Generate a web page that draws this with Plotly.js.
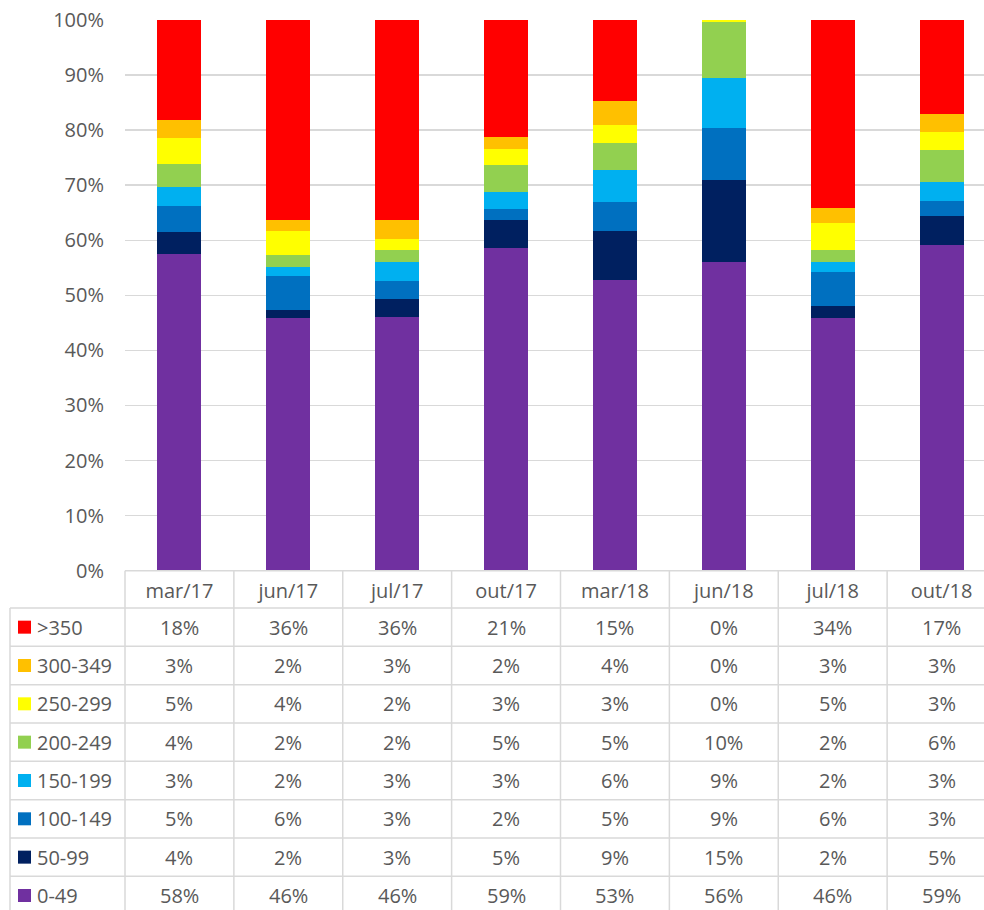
<!DOCTYPE html>
<html>
<head>
<meta charset="utf-8">
<script src="https://cdn.plot.ly/plotly-3.0.1.min.js"></script>
<style>
  html, body { margin: 0; padding: 0; overflow: hidden; background: #fff; }
  #chart { width: 996px; height: 915px; }
</style>
</head>
<body>
<div id="chart"></div>
<script>
// ---- data ----
const categories = ['mar/17', 'jun/17', 'jul/17', 'out/17', 'mar/18', 'jun/18', 'jul/18', 'out/18'];
const seriesNames = ['0-49', '50-99', '100-149', '150-199', '200-249', '250-299', '300-349', '>350'];
const seriesColors = ['#7030A0', '#002060', '#0070C0', '#00B0F0', '#92D050', '#FFFF00', '#FFC000', '#FF0000'];
const s0_49    = [57.6, 45.8, 46.0, 58.6, 52.8, 56.0, 45.8, 59.1];
const s50_99   = [3.9, 1.6, 3.4, 5.1, 8.8, 14.9, 2.2, 5.3];
const s100_149 = [4.8, 6.1, 3.2, 2.0, 5.3, 9.4, 6.3, 2.8];
const s150_199 = [3.4, 1.7, 3.4, 3.1, 5.9, 9.2, 1.7, 3.4];
const s200_249 = [4.1, 2.1, 2.3, 4.9, 4.9, 10.1, 2.2, 5.8];
const s250_299 = [4.7, 4.4, 2.0, 2.9, 3.2, 0.4, 5.0, 3.2];
const s300_349 = [3.3, 2.0, 3.3, 2.1, 4.4, 0.0, 2.6, 3.3];
const s350     = [18.2, 36.3, 36.4, 21.3, 14.7, 0.0, 34.2, 17.1];
const seriesValues = [s0_49, s50_99, s100_149, s150_199, s200_249, s250_299, s300_349, s350];

// ---- geometry (pixels) ----
const W = 996, H = 915, ML = 125, MT = 20, MR = 0, MB = 0;
const plotW = W - ML - MR, plotH = H - MT - MB;
const axisY = 570.7;           // pixel y of 0%
const headerBottom = 608;      // bottom of category header row
const rowH = 38.33;            // data table row height
const FONT = 'Open Sans, sans-serif';
const TXT = '#595959';
const LINE = '#d9d9d9';

const py = p => (H - MB - p) / plotH;   // pixel y -> paper y
const px = p => (p - ML) / plotW;       // pixel x -> paper x

const traces = seriesValues.map((vals, i) => ({
  type: 'bar',
  name: seriesNames[i],
  x: categories,
  y: vals,
  marker: { color: seriesColors[i], line: { width: 0 } },
  showlegend: false,
  hoverinfo: 'x+y+name'
}));

const shapes = [];
const annotations = [];

// horizontal table lines
shapes.push({ type: 'line', xref: 'paper', yref: 'paper', x0: 0, x1: 1, y0: py(axisY), y1: py(axisY),
  line: { color: LINE, width: 1.5 } });
for (let k = 0; k <= 8; k++) {
  const y = headerBottom + k * rowH;
  shapes.push({ type: 'line', xref: 'paper', yref: 'paper', x0: px(10), x1: 1, y0: py(y), y1: py(y),
    line: { color: LINE, width: 1.5 } });
}
// vertical lines
for (let i = 0; i <= categories.length; i++) {
  const x = i / categories.length;
  shapes.push({ type: 'line', xref: 'paper', yref: 'paper', x0: x, x1: x, y0: py(axisY), y1: py(H + 5),
    line: { color: LINE, width: 1.5 } });
}
shapes.push({ type: 'line', xref: 'paper', yref: 'paper', x0: px(10), x1: px(10), y0: py(headerBottom), y1: py(H + 5),
  line: { color: LINE, width: 1.5 } });

// table rows: top row is the last series (>350)
for (let r = 0; r < seriesNames.length; r++) {
  const si = seriesNames.length - 1 - r;
  const yc = headerBottom + (r + 0.5) * rowH;
  // legend key
  shapes.push({ type: 'rect', xref: 'paper', yref: 'paper',
    x0: px(18), x1: px(31), y0: py(yc + 6.5), y1: py(yc - 6.5),
    fillcolor: seriesColors[si], line: { width: 0 } });
  annotations.push({ xref: 'paper', yref: 'paper', x: px(35), y: py(yc), xanchor: 'left', yanchor: 'middle',
    text: seriesNames[si], showarrow: false, font: { family: FONT, size: 20, color: TXT } });
  categories.forEach((c, ci) => {
    annotations.push({ xref: 'x', yref: 'paper', x: c, y: py(yc), xanchor: 'center', yanchor: 'middle',
      text: Math.round(seriesValues[si][ci]) + '%', showarrow: false,
      font: { family: FONT, size: 20, color: TXT } });
  });
}

const layout = {
  width: W, height: H,
  margin: { l: ML, r: MR, t: MT, b: MB, pad: 0 },
  paper_bgcolor: '#ffffff', plot_bgcolor: '#ffffff',
  barmode: 'stack',
  bargap: 0.596,
  font: { family: FONT, size: 20, color: TXT },
  xaxis: {
    type: 'category',
    categoryorder: 'array', categoryarray: categories,
    range: [-0.5, categories.length - 0.5],
    showgrid: false, zeroline: false, showline: false,
    ticks: '', ticklabelstandoff: 6,
    tickfont: { family: FONT, size: 20, color: TXT },
    fixedrange: true
  },
  yaxis: {
    domain: [py(axisY), 1],
    range: [0, 100],
    dtick: 10, tick0: 0,
    ticksuffix: '%',
    showgrid: true, gridcolor: LINE, gridwidth: 1.5,
    zeroline: false, showline: false,
    ticks: '', ticklabelstandoff: 20,
    tickfont: { family: FONT, size: 20, color: TXT },
    fixedrange: true
  },
  shapes: shapes,
  annotations: annotations,
  showlegend: false
};

Plotly.newPlot('chart', traces, layout, { displayModeBar: false, staticPlot: true });
</script>
</body>
</html>
